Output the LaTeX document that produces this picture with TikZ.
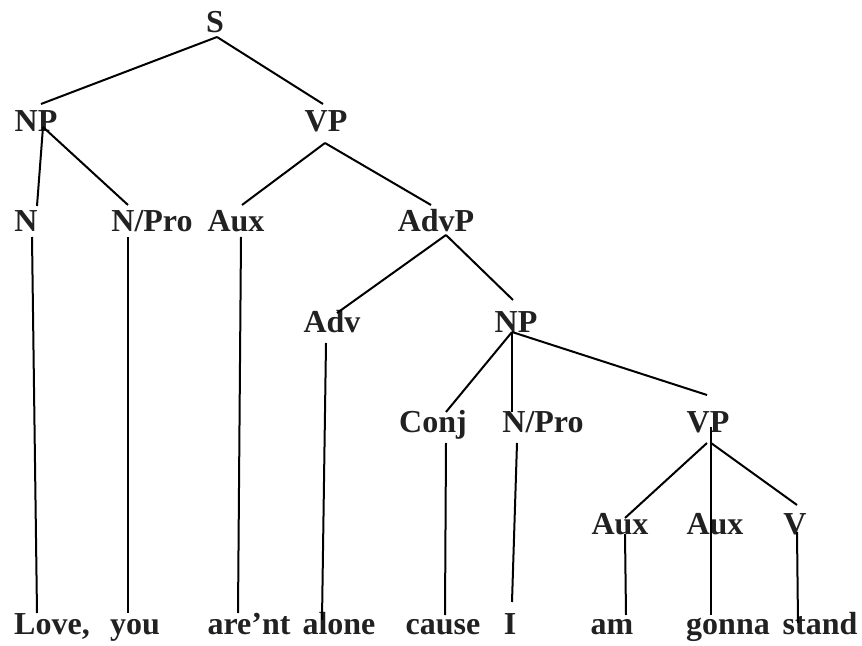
\documentclass[tikz,border=0pt]{standalone}
\usepackage{fontspec}
\setmainfont{Liberation Serif}
\usetikzlibrary{positioning}

\begin{document}
\begin{tikzpicture}[
    x=0.5pt, y=-0.5pt,
    cat/.style={anchor=base, inner sep=0pt, font=\fontsize{16}{19}\selectfont\bfseries, text=black!87},
    word/.style={cat},
    branch/.style={line width=1pt}
]
\useasboundingbox (0,0) rectangle (862,646);

% Phrase level
\node[cat] (S) at (215,33) {S};
\node[cat] (NPa) at (36,132) {NP};
\node[cat] (VPa) at (326,132) {VP};

% Word classes
\node[cat] (N) at (26,232) {N};
\node[cat] (NPro) at (152,232) {N/Pro};
\node[cat] (AuxA) at (236,232) {Aux};
\node[cat] (AdvP) at (436,232) {AdvP};
\node[cat] (Adv) at (332,333) {Adv};
\node[cat] (NPb) at (516,333) {NP};
\node[cat] (Conj) at (433,433) {Conj};
\node[cat] (NProb) at (543,433) {N/Pro};
\node[cat] (VPb) at (708,433) {VP};
\node[cat] (AuxB) at (620,534) {Aux};
\node[cat] (AuxC) at (715,534) {Aux};
\node[cat] (V) at (795,534) {V};

% Sentence
\node[word] (love) at (52,634) {Love,};
\node[word] (you) at (135,634) {you};
\node[word] (arent) at (249,634) {are’nt};
\node[word] (alone) at (339,634) {alone};
\node[word] (cause) at (443,634) {cause};
\node[word] (I) at (510,634) {I};
\node[word] (am) at (612,634) {am};
\node[word] (gonna) at (728,634) {gonna};
\node[word] (stand) at (820,634) {stand};

% Branches
\draw[branch] ([shift={(2,4)}]S.base) -- ([shift={(5,-28)}]NPa.base);
\draw[branch] ([shift={(2,4)}]S.base) -- ([shift={(-3,-28)}]VPa.base);
\draw[branch] ([shift={(7,-5)}]NPa.base) -- ([shift={(11,-26)}]N.base);
\draw[branch] ([shift={(7,-5)}]NPa.base) -- ([shift={(-24,-27)}]NPro.base);
\draw[branch] ([shift={(-1,11)}]VPa.base) -- ([shift={(6,-27)}]AuxA.base);
\draw[branch] ([shift={(-1,11)}]VPa.base) -- ([shift={(-5,-27)}]AdvP.base);
\draw[branch] ([shift={(10,3)}]AdvP.base) -- ([shift={(5,-20)}]Adv.base);
\draw[branch] ([shift={(10,3)}]AdvP.base) -- ([shift={(-3,-33)}]NPb.base);
\draw[branch] ([shift={(-4,-1)}]NPb.base) -- ([shift={(13,-21)}]Conj.base);
\draw[branch] ([shift={(-4,-1)}]NPb.base) -- ([shift={(-31,-21)}]NProb.base);
\draw[branch] ([shift={(-4,-1)}]NPb.base) -- ([shift={(-1,-38)}]VPb.base);
\draw[branch] ([shift={(-1,10)}]VPb.base) -- ([shift={(5,-16)}]AuxB.base);
\draw[branch] ([shift={(3,-6)}]VPb.base) -- ([shift={(-4,0)}]AuxC.base);
\draw[branch] ([shift={(3,10)}]VPb.base) -- ([shift={(2,-29)}]V.base);

% Leaves
\draw[branch] ([shift={(6,5)}]N.base) -- ([shift={(-15,-21)}]love.base);
\draw[branch] ([shift={(-24,5)}]NPro.base) -- ([shift={(-7,-21)}]you.base);
\draw[branch] ([shift={(5,5)}]AuxA.base) -- ([shift={(-11,-21)}]arent.base);
\draw[branch] ([shift={(-6,10)}]Adv.base) -- ([shift={(-17,-14)}]alone.base);
\draw[branch] ([shift={(13,10)}]Conj.base) -- ([shift={(2,-19)}]cause.base);
\draw[branch] ([shift={(-26,10)}]NProb.base) -- ([shift={(2,-32)}]I.base);
\draw[branch] ([shift={(5,0)}]AuxB.base) -- ([shift={(14,-19)}]am.base);
\draw[branch] ([shift={(-4,0)}]AuxC.base) -- ([shift={(-17,-19)}]gonna.base);
\draw[branch] ([shift={(2,-2)}]V.base) -- ([shift={(-22,-11)}]stand.base);

\end{tikzpicture}
\end{document}
